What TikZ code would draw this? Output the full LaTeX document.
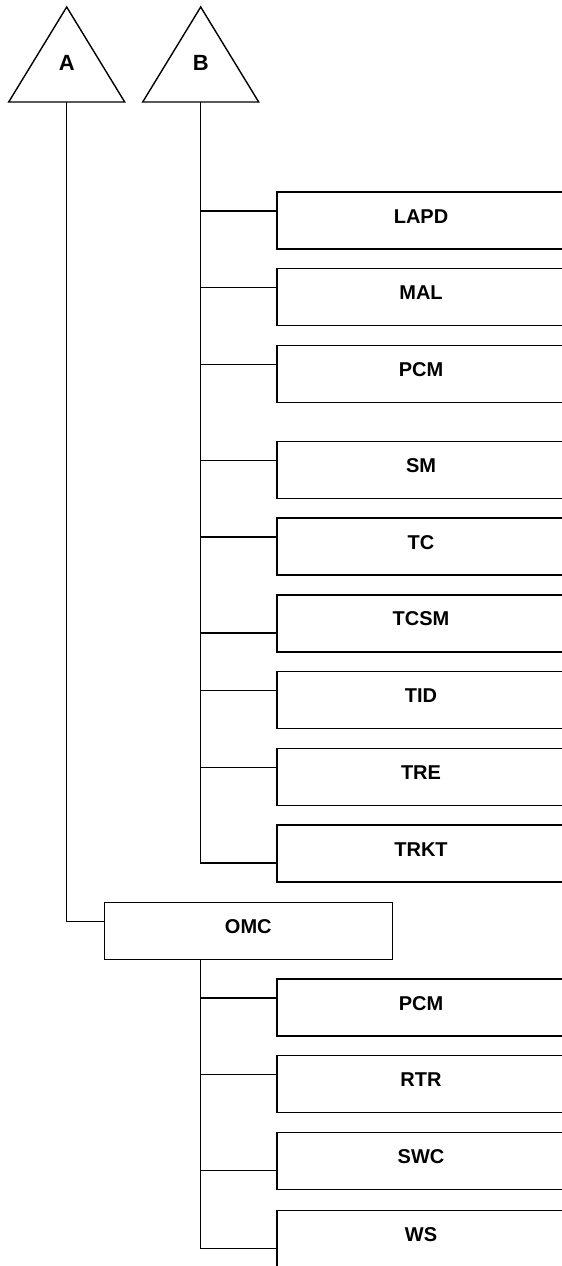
\documentclass[tikz,border=0pt]{standalone}
\usepackage{fontspec}
\setmainfont{Liberation Sans}
\usetikzlibrary{positioning}

\begin{document}
\begin{tikzpicture}[x=1pt, y=-1pt,
  every node/.style={font=\bfseries\fontsize{20}{24}\selectfont},
  box/.style={rectangle, draw, line width=1.4pt, minimum width=288pt,
    minimum height=57pt, inner sep=0pt, outer sep=0pt,
    text height=14.3pt, text depth=9pt},
  trilabel/.style={inner sep=0pt, font=\bfseries\fontsize{22}{26}\selectfont},
  link/.style={draw, line width=1.4pt},
  node distance=19.7pt
]
\useasboundingbox (0,0) rectangle (562,1266);
\clip (0,0) rectangle (562,1266);

% roots
\draw[link] (66.7,7) -- (124.7,102) -- (8.7,102) -- cycle;
\draw[link] (200.7,7) -- (258.7,102) -- (142.7,102) -- cycle;
\node[trilabel] (A) at (66.7,63) {A};
\node[trilabel] (B) at (200.7,63) {B};
\coordinate (Abase) at (66.7,102);
\coordinate (Bbase) at (200.7,102);

% branch B
\node[box] (LAPD) at (421,220.5) {LAPD};
\node[box, below=of LAPD] (MAL) {MAL};
\node[box, below=of MAL] (PCMb) {PCM};
\node[box, below=39pt of PCMb] (SM) {SM};
\node[box, below=of SM] (TC) {TC};
\node[box, below=of TC] (TCSM) {TCSM};
\node[box, below=of TCSM] (TID) {TID};
\node[box, below=of TID] (TRE) {TRE};
\node[box, below=of TRE] (TRKT) {TRKT};

% branch A
\node[box] (OMC) at (248.3,930.8) {OMC};
\node[box] (PCMo) at (421,1007.5) {PCM};
\node[box, below=of PCMo] (RTR) {RTR};
\node[box, below=of RTR] (SWC) {SWC};
\node[box, below=21pt of SWC] (WS) {WS};

% connectors
\foreach \n/\dy in {LAPD/9.5, MAL/9.5, PCMb/9.5, SM/9.5, TC/9.5,
    TCSM/-9.5, TID/9.5, TRE/9.5, TRKT/-9.5}
  \draw[link] (Bbase) |- ([yshift=\dy pt]\n.west);
\draw[link] (Abase) |- ([yshift=9.5pt]OMC.west);
\foreach \n/\dy in {PCMo/9.5, RTR/9.5, SWC/-9.5, WS/-9.5}
  \draw[link] (OMC.south -| Bbase) |- ([yshift=\dy pt]\n.west);

\end{tikzpicture}
\end{document}
